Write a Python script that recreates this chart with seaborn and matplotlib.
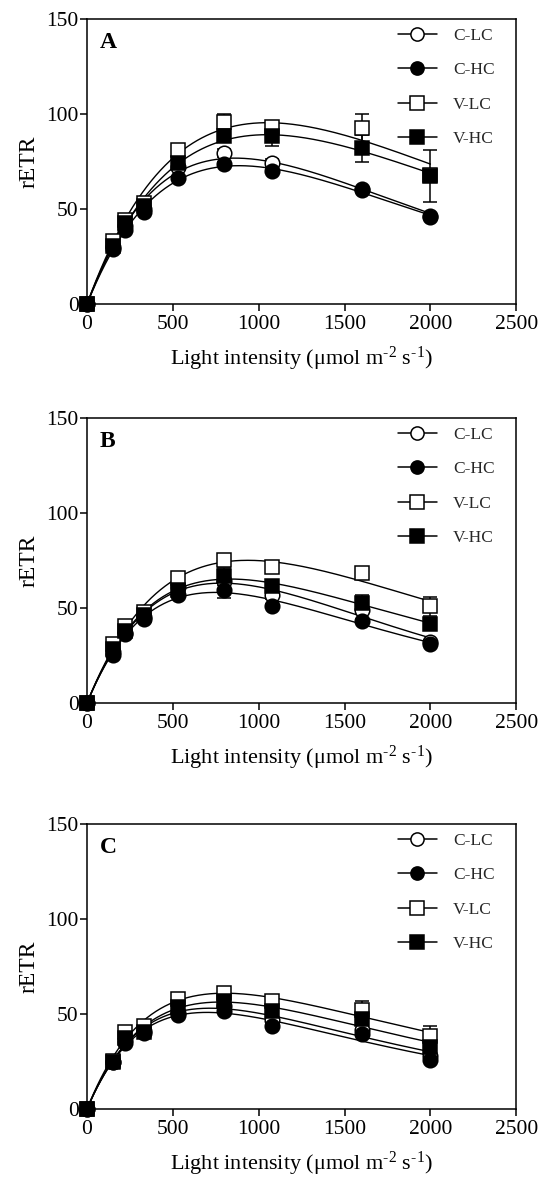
import numpy as np
import pandas as pd
import matplotlib
matplotlib.use('Agg')
import matplotlib.pyplot as plt
from matplotlib.lines import Line2D
import seaborn as sns

# light intensities (umol m-2 s-1)
light = [0, 150, 220, 330, 530, 800, 1080, 1600, 2000]
series = ['C-LC', 'C-HC', 'V-LC', 'V-HC']

# rETR means, panel A
a_clc = [0, 30, 41, 50, 72, 79.4, 74.2, 60.3, 46.5]
a_chc = [0, 29, 39, 48.3, 66.3, 73.6, 70.0, 60.0, 45.7]
a_vlc = [0, 33, 44, 53, 81, 95.8, 93.0, 92.6, 68.0]
a_vhc = [0, 30.4, 42.5, 51.8, 74.3, 88.4, 88.2, 81.9, 67.3]
# panel B
b_clc = [0, 27, 37, 45, 61, 64, 56.8, 49, 32]
b_chc = [0, 25, 36.4, 44, 57, 59.4, 51.2, 43.4, 31]
b_vlc = [0, 31, 40.6, 48, 65.9, 75.2, 71.7, 68.5, 51]
b_vhc = [0, 28.5, 38, 46.3, 59.4, 67, 61.7, 52.8, 41.6]
# panel C
c_clc = [0, 25, 36.5, 41, 50.5, 54, 47, 41.8, 27.7]
c_chc = [0, 24.7, 34.7, 40, 49.6, 51.4, 43.9, 39.6, 26]
c_vlc = [0, 25.4, 40.4, 43.9, 57.9, 61, 56.7, 52.3, 38.2]
c_vhc = [0, 25, 37.4, 40.4, 53.7, 56.7, 51.4, 47.4, 32.6]

# error bars (SE)
a_err = {'C-LC': [0, 1, 1, 1, 1, 2, 2, 1, 1], 'C-HC': [0, 1, 1, 1, 1, 1, 1, 1, 1],
         'V-LC': [0, 1, 2, 2, 2, 4.4, 2, 7.4, 2], 'V-HC': [0, 1, 2, 2, 2, 3, 5, 7.3, 13.6]}
b_err = {'C-LC': [0, 1, 1, 1, 1, 2, 2, 2, 1], 'C-HC': [0, 1, 1, 1, 1, 4, 1, 1, 1],
         'V-LC': [0, 1, 1, 1, 1, 1, 1, 1, 5], 'V-HC': [0, 1, 1, 1, 1, 4, 1, 4, 3]}
c_err = {'C-LC': [0, 1, 1, 1, 1, 1, 1, 1, 1], 'C-HC': [0, 1, 1, 1, 1, 1, 1, 1, 1],
         'V-LC': [0, 1, 1, 1, 1, 2, 2, 4.4, 5.6], 'V-HC': [0, 1, 1, 1, 1, 1, 1, 2, 2]}

panels = [('A', [a_clc, a_chc, a_vlc, a_vhc], a_err),
          ('B', [b_clc, b_chc, b_vlc, b_vhc], b_err),
          ('C', [c_clc, c_chc, c_vlc, c_vhc], c_err)]

styles = {'C-LC': ('o', 'white'), 'C-HC': ('o', 'black'),
          'V-LC': ('s', 'white'), 'V-HC': ('s', 'black')}

sns.set_theme(style='ticks')
plt.rcParams['font.family'] = ['Liberation Serif', 'DejaVu Serif']
plt.rcParams['mathtext.fontset'] = 'custom'
plt.rcParams['mathtext.rm'] = 'Liberation Serif'
plt.rcParams['mathtext.it'] = 'Liberation Serif:italic'


def platt_fit(x, y):
    # P = A (1 - exp(-k I)) exp(-m I), grid search on k, m; A by least squares
    x = np.asarray(x, float)
    y = np.asarray(y, float)
    K = np.geomspace(2e-4, 3e-2, 220)[:, None, None]
    M = np.linspace(0, 1.5e-3, 220)[None, :, None]
    f = (1 - np.exp(-K * x)) * np.exp(-M * x)
    A = (f * y).sum(-1) / (f * f).sum(-1)
    sse = ((y - A[..., None] * f) ** 2).sum(-1)
    i, j = np.unravel_index(np.argmin(sse), sse.shape)
    k, m, amp = K[i, 0, 0], M[0, j, 0], A[i, j]
    xs = np.linspace(0, 2000, 300)
    return xs, amp * (1 - np.exp(-k * xs)) * np.exp(-m * xs)


fig = plt.figure(figsize=(5.44, 11.87), dpi=100)
bottoms = [0.7439, 0.4078, 0.0657]
for (letter, vals, errs), bot in zip(panels, bottoms):
    ax = fig.add_axes([0.16, bot, 0.789, 0.240])
    rows = []
    for name, v in zip(series, vals):
        xs, ys = platt_fit(light, v)
        rows.append(pd.DataFrame({'x': xs, 'y': ys, 'series': name}))
    curves = pd.concat(rows)
    sns.lineplot(data=curves, x='x', y='y', hue='series', palette=['black'] * 4,
                 linewidth=1.0, legend=False, ax=ax, zorder=2)
    for name, v in zip(series, vals):
        m, fc = styles[name]
        ax.errorbar(light, v, yerr=errs[name], fmt=m, ms=10.5, mfc=fc, mec='black',
                    mew=1.1, ecolor='black', elinewidth=1.1, capsize=5, capthick=1.1,
                    clip_on=False, zorder=3)
    ax.set_xlim(0, 2500)
    ax.set_ylim(0, 150)
    ax.set_xticks([0, 500, 1000, 1500, 2000, 2500])
    ax.set_yticks([0, 50, 100, 150])
    ax.tick_params(axis='both', labelsize=15.5, length=5, width=1.1, color='black',
                   labelcolor='black', direction='out')
    ax.tick_params(axis='y', pad=1)
    ax.tick_params(axis='x', pad=3)
    for s in ax.spines.values():
        s.set_color('black')
        s.set_linewidth(1.1)
    ax.set_xlabel('Light intensity (μmol m$^{\u20102}$ s$^{\u20101}$)', fontsize=16,
                  color='black', labelpad=8)
    ax.set_ylabel('rETR', fontsize=17, color='black', labelpad=5)
    ax.text(0.03, 0.955, letter, transform=ax.transAxes, fontsize=17, fontweight='bold',
            va='top', ha='left', color='black')
    handles = [Line2D([0], [0], color='black', lw=1.1, marker=styles[n][0], ms=9.5,
                      mfc=styles[n][1], mec='black', mew=1.1) for n in series]
    ax.legend(handles, series, loc='upper right', frameon=False, fontsize=12.5,
              handlelength=2.3, labelspacing=1.05, borderaxespad=0.1, handletextpad=0.9,
              bbox_to_anchor=(0.97, 1.0))

fig.savefig('out.png', dpi=100)
